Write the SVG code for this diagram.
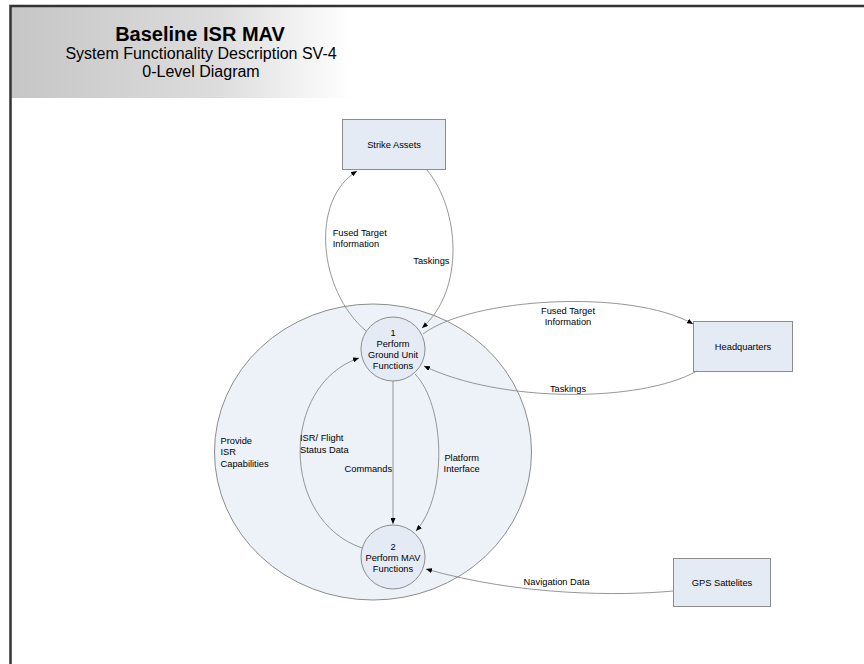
<svg xmlns="http://www.w3.org/2000/svg" width="864" height="664" viewBox="0 0 864 664">
<defs>
<linearGradient id="hdr" x1="0" y1="0" x2="1" y2="0">
<stop offset="0" stop-color="#c6c6c6"/>
<stop offset="0.6" stop-color="#dcdcdc"/>
<stop offset="1" stop-color="#ffffff"/>
</linearGradient>
<marker id="arr" markerWidth="6" markerHeight="5" refX="6" refY="2.5" orient="auto" markerUnits="userSpaceOnUse">
<path d="M0,0 L6,2.5 L0,5 z" fill="#000"/>
</marker>
<style>
.t{font-family:"Liberation Sans",Arial,sans-serif;font-size:9.3px;fill:#000}
.m{text-anchor:middle}
.box{fill:#e5ebf5;stroke:#8c8c8c;stroke-width:1}
.proc{fill:#e5ebf5;stroke:#8c8c8c;stroke-width:1}
.c{fill:none;stroke:#8a8a8a;stroke-width:0.9;marker-end:url(#arr)}
.h{font-family:"Liberation Sans",Arial,sans-serif;fill:#000;text-anchor:middle}
</style>
</defs>
<rect x="0" y="0" width="864" height="664" fill="#fff"/>
<rect x="11" y="7" width="340" height="91" fill="url(#hdr)"/>
<path d="M10.5,664 L10.5,6 L864,6" fill="none" stroke="#333" stroke-width="2.5"/>
<g id="header">
<text class="h" x="200" y="41" font-size="20" font-weight="bold">Baseline ISR MAV</text>
<text class="h" x="201" y="59" font-size="16">System Functionality Description SV-4</text>
<text class="h" x="201" y="77" font-size="16">0-Level Diagram</text>
</g>
<g id="isr-capabilities">
<ellipse cx="373" cy="452" rx="158.5" ry="148" fill="#edf1f8" stroke="#8c8c8c" stroke-width="1"/>
<text class="t" x="220.5" y="444">Provide</text>
<text class="t" x="220.5" y="455.3">ISR</text>
<text class="t" x="220.5" y="466.6">Capabilities</text>
</g>
<g id="strike-assets">
<rect class="box" x="342.5" y="119.5" width="103" height="50"/>
<text class="t m" x="394" y="147.5">Strike Assets</text>
</g>
<g id="headquarters">
<rect class="box" x="693.5" y="321.5" width="99" height="50"/>
<text class="t m" x="743" y="349.5">Headquarters</text>
</g>
<g id="gps-satellites">
<rect class="box" x="673.5" y="558.5" width="97" height="48"/>
<text class="t m" x="722" y="585.8">GPS Sattelites</text>
</g>
<g id="connectors">
<path class="c" d="M366,331 C318,290 310,200 357,171"/>
<path class="c" d="M427,170 C460,210 465,290 422,328"/>
<path class="c" d="M423,334 C470,298 630,288 693,324"/>
<path class="c" d="M697,371 C640,403 500,403 424,366"/>
<path class="c" d="M393,381 L393,524"/>
<path class="c" d="M362,548 C280,520 280,385 359,358"/>
<path class="c" d="M415,374 C445,405 448,495 416,531"/>
<path class="c" d="M673,591 C620,596 520,596 426,569"/>
<text class="t" x="332.7" y="235.6">Fused Target</text>
<text class="t" x="332.7" y="246.6">Information</text>
<text class="t" x="413.3" y="264">Taskings</text>
<text class="t m" x="568" y="314">Fused Target</text>
<text class="t m" x="568" y="325.3">Information</text>
<text class="t m" x="568" y="391.6">Taskings</text>
<text class="t" x="300" y="441">ISR/ Flight</text>
<text class="t" x="300" y="452.6">Status Data</text>
<text class="t m" x="368.3" y="472.3">Commands</text>
<text class="t m" x="461.7" y="461">Platform</text>
<text class="t m" x="461.7" y="472.3">Interface</text>
<text class="t m" x="556.7" y="585">Navigation Data</text>
</g>
<g id="process-1">
<circle class="proc" cx="393" cy="349" r="32"/>
<text class="t m" x="393" y="335.6">1</text>
<text class="t m" x="393" y="346.8">Perform</text>
<text class="t m" x="393" y="358">Ground Unit</text>
<text class="t m" x="393" y="369.2">Functions</text>
</g>
<g id="process-2">
<circle class="proc" cx="393" cy="557" r="32"/>
<text class="t m" x="393" y="550">2</text>
<text class="t m" x="393" y="561.2">Perform MAV</text>
<text class="t m" x="393" y="572.4">Functions</text>
</g>
</svg>
